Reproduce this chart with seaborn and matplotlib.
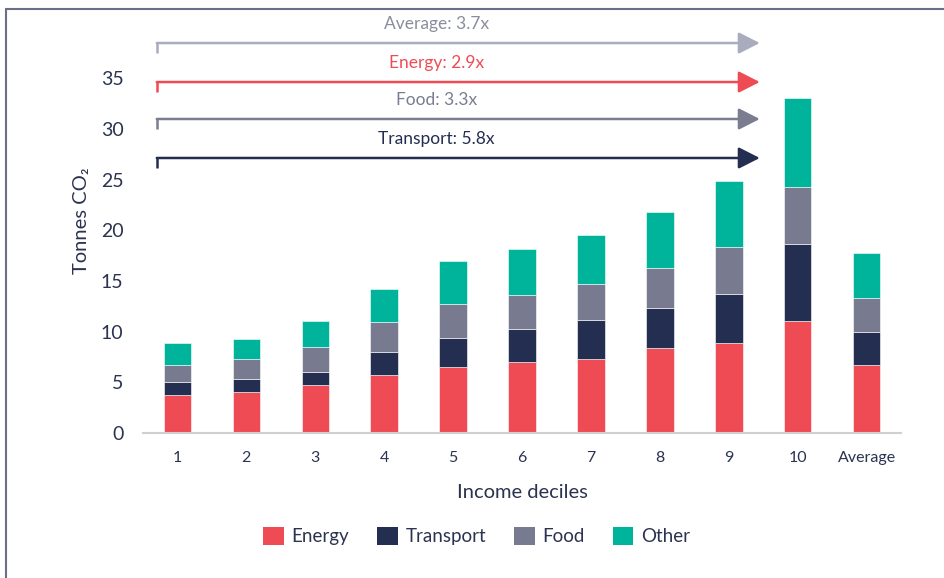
import numpy as np
import pandas as pd
import seaborn as sns
import matplotlib.pyplot as plt
from matplotlib.lines import Line2D
from matplotlib.patches import Patch

# data
deciles = ['1', '2', '3', '4', '5', '6', '7', '8', '9', '10', 'Average']
energy = [3.75, 4.05, 4.74, 5.73, 6.52, 7.04, 7.34, 8.36, 8.92, 11.03, 6.74]
transport = [1.31, 1.25, 1.31, 2.30, 2.89, 3.19, 3.85, 3.95, 4.83, 7.67, 3.26]
food = [1.64, 1.97, 2.41, 2.90, 3.32, 3.42, 3.49, 3.95, 4.58, 5.55, 3.33]
other = [2.18, 1.98, 2.64, 3.27, 4.27, 4.48, 4.87, 5.54, 6.57, 8.80, 4.44]

categories = ['Energy', 'Transport', 'Food', 'Other']
colors = ['#EE4B55', '#232E50', '#787A8F', '#00B49B']

# ratio arrows (label, level on y axis, line colour, text colour)
ratio_labels = ['Average: 3.7x', 'Energy: 2.9x', 'Food: 3.3x', 'Transport: 5.8x']
ratio_levels = [38.5, 34.65, 31.0, 27.15]
ratio_colors = ['#A8ACBC', '#EE4B55', '#7A7D90', '#232E50']
ratio_text_colors = ['#8A8D9C', '#EE4B55', '#7A7D90', '#232E50']

sns.set_style('white')
plt.rcParams['font.family'] = ['Lato', 'DejaVu Sans']
text_col = '#2B3350'

df = pd.DataFrame({'decile': deciles, 'Energy': energy, 'Transport': transport,
                   'Food': food, 'Other': other})

fig = plt.figure(figsize=(9.44, 5.78), dpi=100)
ax = fig.add_axes([0.1515, 0.2509, 0.803, 0.736])

bottom = np.zeros(len(deciles))
for cat, col in zip(categories, colors):
    sns.barplot(data=df, x='decile', y=cat, color=col, bottom=bottom, width=0.4,
                ax=ax, saturation=1, edgecolor='white', linewidth=0.4)
    bottom = bottom + df[cat].values

ax.set_xlim(-0.5, 10.5)
ax.set_ylim(0, 42)
ax.set_yticks(range(0, 40, 5))
sns.despine(ax=ax, left=True)
ax.spines['bottom'].set_color('#D0D0D4')
ax.spines['bottom'].set_linewidth(1.5)
ax.tick_params(axis='y', labelsize=14, colors=text_col, length=0, pad=14)
ax.tick_params(axis='x', labelsize=11.5, colors=text_col, length=0, pad=13)
ax.set_xlabel('Income deciles', fontsize=14.5, color=text_col, labelpad=14)
ax.set_ylabel('Tonnes CO₂', fontsize=14.5, color=text_col, labelpad=8)

# ratio arrows
for lab, lvl, lc, tc in zip(ratio_labels, ratio_levels, ratio_colors, ratio_text_colors):
    ax.annotate('', xy=(8.45, lvl), xytext=(-0.3, lvl),
                arrowprops=dict(arrowstyle='-|>,head_length=0.65,head_width=0.33',
                                lw=1.8, color=lc, shrinkA=0, shrinkB=0,
                                mutation_scale=20))
    ax.plot([-0.3, -0.3], [lvl, lvl - 0.95], color=lc, lw=1.8,
            solid_capstyle='butt')
    ax.text(3.76, lvl + 1.9, lab, ha='center', va='center', fontsize=12.5, color=tc)

# legend
handles = [Patch(facecolor=c, edgecolor='none') for c in colors]
fig.legend(handles, categories, loc='center', bbox_to_anchor=(0.505, 0.073), ncol=4,
           frameon=False, fontsize=13.5, handlelength=1.1, handleheight=1.1,
           handletextpad=0.4, columnspacing=1.5, labelcolor=text_col)

# partial frame around the figure (top and left only)
fig.add_artist(Line2D([0.006, 1.0], [0.985, 0.985], color='#6A6E88', lw=1.5,
                      transform=fig.transFigure))
fig.add_artist(Line2D([0.006, 0.006], [0.0, 0.985], color='#6A6E88', lw=1.5,
                      transform=fig.transFigure))

fig.savefig('out.png', dpi=100)
